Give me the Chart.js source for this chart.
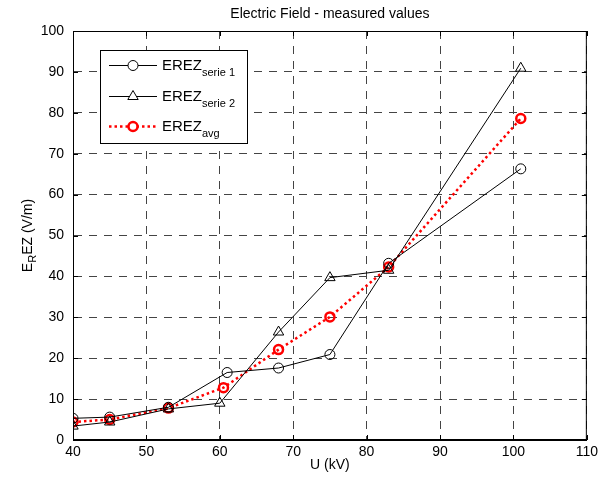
<!DOCTYPE html>
<html>
<head>
<meta charset="utf-8">
<script src="https://cdn.jsdelivr.net/npm/chart.js@4/dist/chart.umd.min.js"></script>
<style>
  body { margin: 0; background: #fff; }
  #grafico { display: block; }
</style>
</head>
<body>
<canvas id="grafico" width="602" height="482"></canvas>
<script>
const uSerie1 = [40, 45, 53, 61, 68, 75, 83, 101];
const eSerie1 = [5.3, 5.6, 8.0, 16.5, 17.6, 20.9, 43.2, 66.3];
const uSerie2 = [40, 45, 53, 60, 68, 75, 83, 101];
const eSerie2 = [3.4, 4.4, 7.6, 9.0, 26.4, 39.7, 41.5, 90.9];
const uAvg = [40, 45, 53, 60.5, 68, 75, 83, 101];
const eAvg = [4.4, 5.0, 7.8, 12.8, 22.1, 30.1, 42.3, 78.6];

const xTicks = [40, 50, 60, 70, 80, 90, 100, 110];
const yTicks = [0, 10, 20, 30, 40, 50, 60, 70, 80, 90, 100];

const titulo = "Electric Field - measured values";
const xTitulo = "U (kV)";
const legendas = [
  { base: "EREZ", sub: "serie 1" },
  { base: "EREZ", sub: "serie 2" },
  { base: "EREZ", sub: "avg" }
];

const FONTE = "Liberation Sans, Arial, Helvetica, sans-serif";

function pares(xs, ys) {
  return xs.map((x, i) => ({ x, y: ys[i] }));
}

const moldura = {
  id: "moldura",
  afterDraw(chart) {
    const ctx = chart.ctx;
    const a = chart.chartArea;
    const xs = chart.scales.x;
    const ys = chart.scales.y;
    ctx.save();

    // caixa
    ctx.strokeStyle = "#000";
    ctx.lineWidth = 1;
    ctx.setLineDash([]);
    ctx.strokeRect(a.left + 0.5, a.top + 0.5, a.right - a.left - 1, a.bottom - a.top - 1);

    // marcas internas
    ctx.beginPath();
    xTicks.forEach(v => {
      const px = Math.round(xs.getPixelForValue(v)) + 0.5;
      ctx.moveTo(px, a.bottom); ctx.lineTo(px, a.bottom - 5);
      ctx.moveTo(px, a.top); ctx.lineTo(px, a.top + 5);
    });
    yTicks.forEach(v => {
      const py = Math.round(ys.getPixelForValue(v)) + 0.5;
      ctx.moveTo(a.left, py); ctx.lineTo(a.left + 5, py);
      ctx.moveTo(a.right, py); ctx.lineTo(a.right - 5, py);
    });
    ctx.stroke();

    // títulos
    ctx.fillStyle = "#000";
    ctx.font = "14px " + FONTE;
    ctx.textAlign = "center";
    ctx.textBaseline = "middle";
    ctx.fillText(titulo, (a.left + a.right) / 2, 14);
    ctx.fillText(xTitulo, (a.left + a.right) / 2, 465);

    // rótulo do eixo y com subscrito
    ctx.save();
    ctx.translate(27, (a.top + a.bottom) / 2);
    ctx.rotate(-Math.PI / 2);
    ctx.textAlign = "left";
    ctx.textBaseline = "alphabetic";
    const pE = "E", pR = "R", pResto = "EZ (V/m)";
    ctx.font = "14px " + FONTE;
    const wE = ctx.measureText(pE).width;
    const wResto = ctx.measureText(pResto).width;
    ctx.font = "11px " + FONTE;
    const wR = ctx.measureText(pR).width;
    let x0 = -(wE + wR + wResto) / 2;
    ctx.font = "14px " + FONTE;
    ctx.fillText(pE, x0, 5);
    ctx.font = "11px " + FONTE;
    ctx.fillText(pR, x0 + wE, 9);
    ctx.font = "14px " + FONTE;
    ctx.fillText(pResto, x0 + wE + wR, 5);
    ctx.restore();

    // legenda
    const lx = 100.5, ly = 50.5, lw = 147, lh = 93;
    ctx.fillStyle = "#fff";
    ctx.fillRect(lx, ly, lw, lh);
    ctx.strokeStyle = "#000";
    ctx.lineWidth = 1;
    ctx.strokeRect(lx, ly, lw, lh);
    const linhasY = [65, 96, 126];
    chart.data.datasets.forEach((ds, i) => {
      const y = linhasY[i];
      ctx.save();
      ctx.strokeStyle = ds.borderColor;
      ctx.lineWidth = ds.borderWidth;
      ctx.setLineDash(ds.borderDash || []);
      ctx.beginPath();
      ctx.moveTo(109, y + 0.5);
      ctx.lineTo(157, y + 0.5);
      ctx.stroke();
      ctx.setLineDash([]);
      ctx.strokeStyle = ds.pointBorderColor;
      ctx.fillStyle = "#fff";
      ctx.lineWidth = ds.pointBorderWidth;
      Chart.helpers.drawPoint(ctx, {
        pointStyle: ds.pointStyle,
        radius: ds.pointRadius,
        borderWidth: ds.pointBorderWidth,
        rotation: 0
      }, 133, y + 0.5);
      ctx.restore();
      ctx.fillStyle = "#000";
      ctx.textAlign = "left";
      ctx.textBaseline = "alphabetic";
      ctx.font = "15px " + FONTE;
      ctx.fillText(legendas[i].base, 162, y + 5);
      const wb = ctx.measureText(legendas[i].base).width;
      ctx.font = "11px " + FONTE;
      ctx.fillText(legendas[i].sub, 162 + wb, y + 11);
    });

    ctx.restore();
  }
};

const ctx = document.getElementById("grafico").getContext("2d");
const grafico = new Chart(ctx, {
  type: "scatter",
  data: {
    datasets: [
      {
        label: "EREZ serie 1",
        data: pares(uSerie1, eSerie1),
        showLine: true,
        borderColor: "#000",
        borderWidth: 1,
        pointStyle: "circle",
        pointRadius: 5,
        pointBorderWidth: 1,
        pointBorderColor: "#000",
        pointBackgroundColor: "rgba(0,0,0,0)"
      },
      {
        label: "EREZ serie 2",
        data: pares(uSerie2, eSerie2),
        showLine: true,
        borderColor: "#000",
        borderWidth: 1,
        pointStyle: "triangle",
        pointRadius: 6,
        pointBorderWidth: 1,
        pointBorderColor: "#000",
        pointBackgroundColor: "rgba(0,0,0,0)"
      },
      {
        label: "EREZ avg",
        data: pares(uAvg, eAvg),
        showLine: true,
        borderColor: "#ff0000",
        borderWidth: 2.5,
        borderDash: [2.5, 3],
        pointStyle: "circle",
        pointRadius: 4.5,
        pointBorderWidth: 2.5,
        pointBorderColor: "#ff0000",
        pointBackgroundColor: "rgba(0,0,0,0)"
      }
    ]
  },
  options: {
    responsive: false,
    animation: false,
    devicePixelRatio: 1,
    layout: { padding: { left: 0, top: 31, right: 13, bottom: 0 } },
    plugins: {
      legend: { display: false },
      title: { display: false },
      tooltip: { enabled: false }
    },
    scales: {
      x: {
        type: "linear",
        min: 40,
        max: 110,
        afterFit: s => { s.height = 42; },
        afterBuildTicks: s => { s.ticks = xTicks.map(v => ({ value: v })); },
        ticks: {
          color: "#000",
          font: { family: FONTE, size: 14 },
          padding: 4,
          maxRotation: 0
        },
        grid: { color: "#444", lineWidth: 1, drawTicks: false },
        border: { display: true, color: "#000", width: 1, dash: [8, 7] }
      },
      y: {
        type: "linear",
        min: 0,
        max: 100,
        afterFit: s => { s.width = 73; },
        afterBuildTicks: s => { s.ticks = yTicks.map(v => ({ value: v })); },
        ticks: {
          color: "#000",
          font: { family: FONTE, size: 14 },
          padding: 9
        },
        grid: { color: "#444", lineWidth: 1, drawTicks: false },
        border: { display: true, color: "#000", width: 1, dash: [8, 7] }
      }
    }
  },
  plugins: [moldura]
});
</script>
</body>
</html>
